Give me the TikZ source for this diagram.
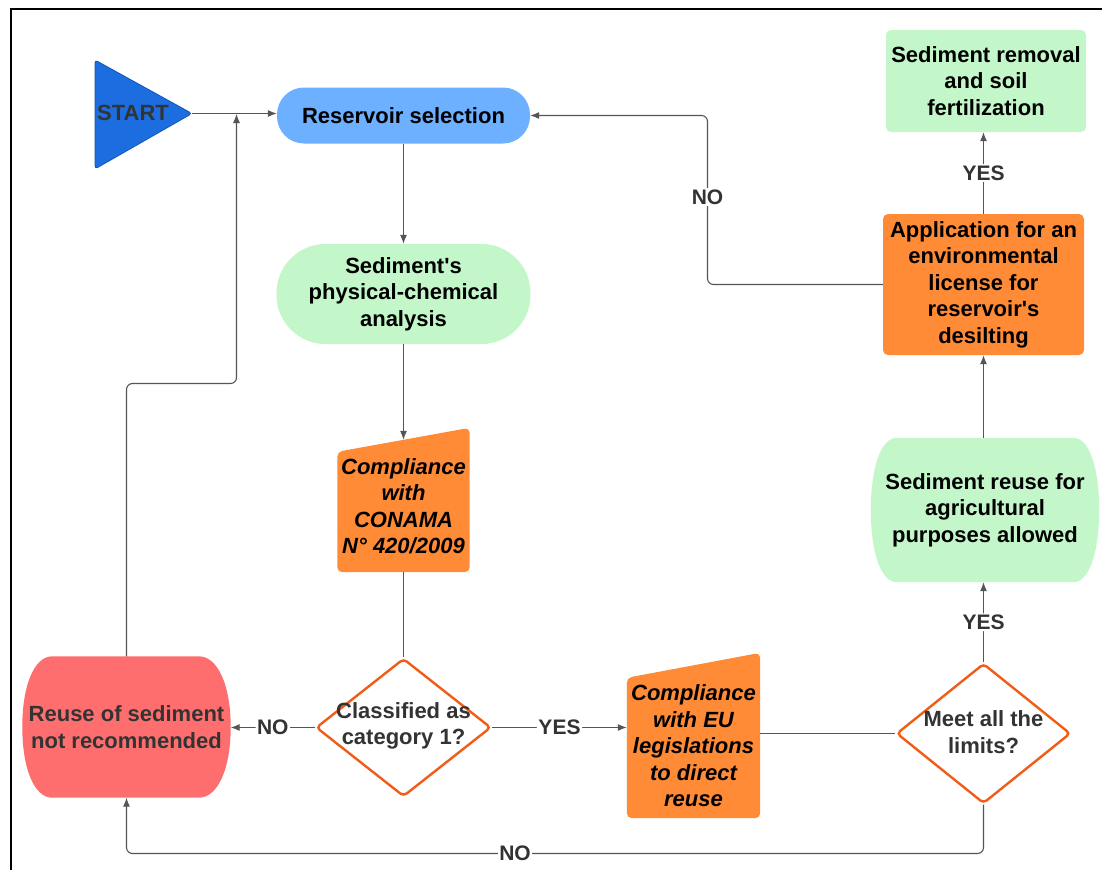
\documentclass[tikz,border=0pt]{standalone}
\usepackage{fontspec}
\setmainfont{Liberation Sans}[Ligatures=TeXOff]
\usetikzlibrary{shapes.geometric,arrows.meta,calc}
\pgfdeclarelayer{bg}
\pgfsetlayers{bg,main}
\definecolor{startblue}{HTML}{1B6DE0}
\definecolor{startedge}{HTML}{1456B8}
\definecolor{resblue}{HTML}{6CB0FF}
\definecolor{lgreen}{HTML}{C3F7CA}
\definecolor{orng}{HTML}{FF8B36}
\definecolor{redfill}{HTML}{FF6E6E}
\definecolor{dmdedge}{HTML}{F25C19}
\definecolor{linegray}{HTML}{555555}
\definecolor{txtgray}{HTML}{333333}
\begin{document}
\begin{tikzpicture}[x=1pt,y=-1pt,
  txt/.style={font=\fontsize{22}{26.5}\selectfont\bfseries, align=center, text=black, inner sep=0pt},
  itxt/.style={txt, font=\fontsize{22}{26.5}\selectfont\bfseries\itshape},
  gtxt/.style={txt, text=txtgray},
  conn/.style={draw=linegray, line width=1.1pt, rounded corners=6pt},
  arr/.style={conn, -{Latex[length=9pt,width=7pt]}},
  lbl/.style={font=\fontsize{21}{25}\selectfont\bfseries, text=txtgray, fill=white, inner sep=1.5pt},
  dmd/.style={diamond, draw=dmdedge, line width=2.4pt, fill=white, rounded corners=4pt, inner sep=0pt},
  stadium/.style={txt, fill=#1, rounded corners=49pt},
  boxr/.style={txt, fill=#1, rounded corners=5pt}
]
\useasboundingbox (0,0) rectangle (1102,870);
% frame (only top and left edges visible)
\draw[line width=2.6pt] (11,870) -- (11,9) -- (1102,9);

% START triangle
\filldraw[fill=startblue, draw=startedge, line width=0.8pt, rounded corners=3pt]
  (95,60) -- (192,113.5) -- (95,169) -- cycle;
\node[gtxt] (start) at (133,113) {START};
\coordinate (startTip) at (192,113.5);

% nodes
\node[stadium=resblue, rounded corners=27pt, minimum width=253pt, minimum height=56pt] (res) at (403.5,115.5) {Reservoir selection};
\node[stadium=lgreen, minimum width=254pt, minimum height=100pt] (sed) at (403.5,294) {Sediment's\\physical-chemical\\analysis};

\node[itxt, minimum width=132pt, minimum height=132pt] (conama) at (403.5,506) {Compliance\\with\\CONAMA\\N° 420/2009};

\node[dmd, minimum width=175pt, minimum height=138pt] (cls) at (403.5,727.5) {};
\node[gtxt] (clsT) at (403.5,726) {Classified as\\category 1?};

\node[gtxt, minimum width=208pt, minimum height=141pt] (red) at (126.5,727) {Reuse of sediment\\not recommended};

\node[itxt, minimum width=133pt, minimum height=144pt] (eu) at (693.5,746) {Compliance\\with EU\\legislations\\to direct\\reuse};

\node[dmd, minimum width=174pt, minimum height=140pt] (meet) at (983.5,733.5) {};
\node[gtxt] (meetT) at (983.5,732) {Meet all the\\limits?};

\node[txt, minimum width=228pt, minimum height=144pt] (reuse) at (985,510) {Sediment reuse for\\agricultural\\purposes allowed};

\node[boxr=orng, minimum width=201pt, minimum height=141pt] (app) at (983.5,284.5) {Application for an\\environmental\\license for\\reservoir's\\desilting};

\node[boxr=lgreen, minimum width=200pt, minimum height=102pt] (rem) at (986,81) {Sediment removal\\and soil\\fertilization};

% custom backgrounds
\begin{pgfonlayer}{bg}
  \fill[white] (0,0) rectangle (1102,870);
  % manual input shapes
  \fill[orng, rounded corners=5pt]
    ($(conama.north west)+(0,12)$) -- ($(conama.north east)+(0,-12)$) --
    (conama.south east) -- (conama.south west) -- cycle;
  \fill[orng, rounded corners=5pt]
    ($(eu.north west)+(0,4)$) -- ($(eu.north east)+(0,-21)$) --
    (eu.south east) -- (eu.south west) -- cycle;
  % bulging-sided shapes
  \fill[redfill]
    ($(red.north west)+(30,0)$) -- ($(red.north east)+(-32,0)$)
    .. controls ($(red.north east)+(-13,0)$) and ($(red.east)+(0,-42)$) .. (red.east)
    .. controls ($(red.east)+(0,42)$) and ($(red.south east)+(-13,0)$) .. ($(red.south east)+(-32,0)$)
    -- ($(red.south west)+(30,0)$)
    .. controls ($(red.south west)+(12,0)$) and ($(red.west)+(0,42)$) .. (red.west)
    .. controls ($(red.west)+(0,-42)$) and ($(red.north west)+(12,0)$) .. cycle;
  \fill[lgreen]
    ($(reuse.north west)+(26,0)$) -- ($(reuse.north east)+(-26,0)$)
    .. controls ($(reuse.north east)+(-10,0)$) and ($(reuse.east)+(0,-42)$) .. (reuse.east)
    .. controls ($(reuse.east)+(0,42)$) and ($(reuse.south east)+(-10,0)$) .. ($(reuse.south east)+(-26,0)$)
    -- ($(reuse.south west)+(26,0)$)
    .. controls ($(reuse.south west)+(10,0)$) and ($(reuse.west)+(0,42)$) .. (reuse.west)
    .. controls ($(reuse.west)+(0,-42)$) and ($(reuse.north west)+(10,0)$) .. cycle;
\end{pgfonlayer}

% helper coordinates
\coordinate (join) at (236.5,114);
\coordinate (loopY) at (0,383.5);
\coordinate (noX) at (707.5,0);
\coordinate (botY) at (0,853.5);

% connectors
\draw[arr] (startTip) -- (res.west |- startTip);
\draw[arr] (res.south) -- (sed.north);
\draw[arr] (sed.south) -- (conama.north);
\draw[conn] (conama.south) -- (cls.north);
\draw[arr] (cls.west) -- (red.east |- cls.west) node[lbl, midway] {NO};
\draw[arr] (cls.east) -- (eu.west |- cls.east) node[lbl, midway] {YES};
\draw[conn] (eu.east |- meet.west) -- (meet.west);
\draw[arr] (meet.north) -- (meet.north |- reuse.south) node[lbl, midway] {YES};
\draw[arr] (reuse.north -| app.south) -- (app.south);
\draw[arr] (app.north) -- (app.north |- rem.south) node[lbl, midway] {YES};
\draw[arr] (app.west) -| (noX |- res.east) -- (res.east);
\node[lbl] at (707.5,197) {NO};
\draw[arr] (red.north) -- (red.north |- loopY) -| (join);
\draw[arr] (meet.south) |- (red.south |- botY) -- (red.south);
\node[lbl] at (515,853.5) {NO};
\end{tikzpicture}
\end{document}
